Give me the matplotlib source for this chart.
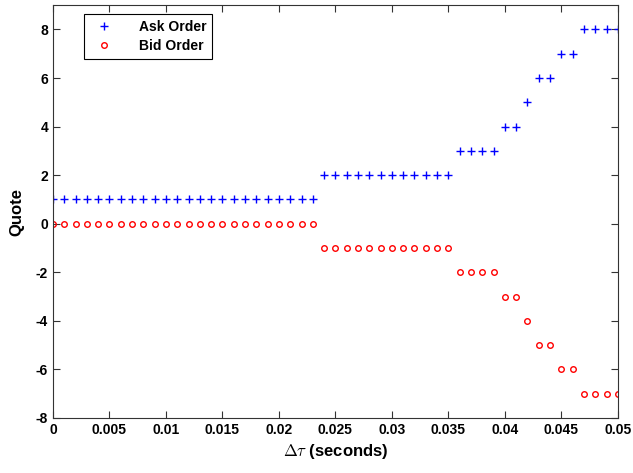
import matplotlib
matplotlib.use("Agg")
import matplotlib.pyplot as plt
import numpy as np

plt.rcParams['font.family'] = ['Liberation Sans', 'DejaVu Sans']
plt.rcParams['font.weight'] = 'bold'
plt.rcParams['mathtext.fontset'] = 'cm'
plt.rcParams['axes.unicode_minus'] = False

# time steps (seconds)
dtau = [i / 1000 for i in range(51)]
ask = [1] * 24 + [2] * 12 + [3] * 4 + [4, 4, 5, 6, 6, 7, 7, 8, 8, 8, 8]
bid = [0] * 24 + [-1] * 12 + [-2] * 4 + [-3, -3, -4, -5, -5, -6, -6, -7, -7, -7, -7]

fig = plt.figure(figsize=(6.33, 4.73), dpi=100)
ax = fig.add_axes([0.0837, 0.1163, 0.8923, 0.8727])

ax.plot(dtau, ask, linestyle='none', marker='+', color='blue', markersize=6, markeredgewidth=1.0, label='Ask Order')
ax.plot(dtau, bid, linestyle='none', marker='o', markerfacecolor='none', markeredgecolor='red',
        markersize=4, markeredgewidth=1.0, label='Bid Order')

ax.set_xlim(0, 0.05)
ax.set_ylim(-8, 9)
ax.set_xticks(np.arange(0, 0.0501, 0.005))
ax.set_xticklabels(['0', '0.005', '0.01', '0.015', '0.02', '0.025', '0.03', '0.035', '0.04', '0.045', '0.05'])
ax.set_yticks(range(-8, 9, 2))
ax.tick_params(direction='in', top=True, right=True, labelsize=10, length=5, width=0.8, color='#333333')
for s in ax.spines.values():
    s.set_color('#333333')
    s.set_linewidth(0.8)

ax.set_xlabel(r'$\Delta\tau$ (seconds)', fontsize=12, fontweight='bold', labelpad=4)
ax.set_ylabel('Quote', fontsize=12, fontweight='bold', labelpad=8)

leg = ax.legend(loc='upper left', bbox_to_anchor=(0.042, 0.995), fontsize=10, fancybox=False,
                edgecolor='black', framealpha=1, handletextpad=1.4, borderpad=0.4, labelspacing=0.4,
                handlelength=2.2)
leg.get_frame().set_linewidth(0.8)

fig.savefig('out.png', dpi=100)
